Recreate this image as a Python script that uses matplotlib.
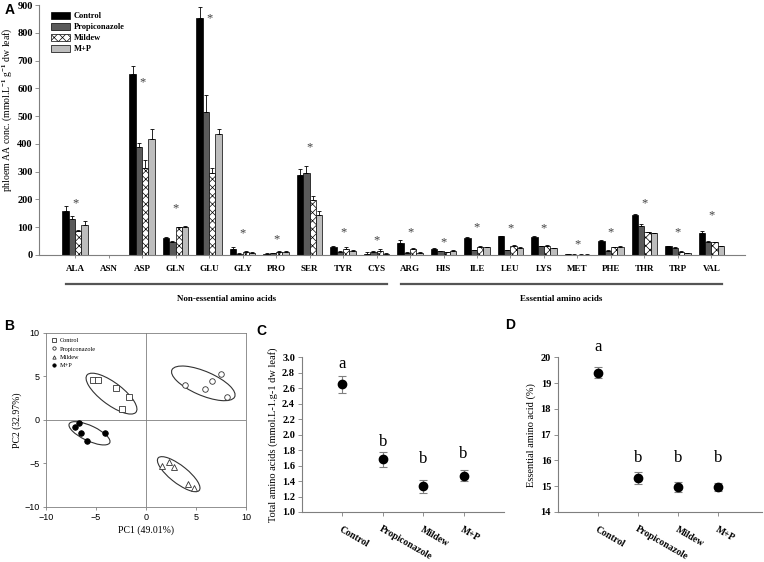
import matplotlib
matplotlib.use("Agg")
import matplotlib.pyplot as plt
import matplotlib.transforms as mtransforms
from matplotlib.patches import Ellipse
import numpy as np

plt.rcParams["font.family"] = "Liberation Serif"
plt.rcParams["font.weight"] = "bold"
plt.rcParams["mathtext.fontset"] = "custom"
plt.rcParams["mathtext.rm"] = "Liberation Serif:bold"
plt.rcParams["mathtext.default"] = "rm"
plt.rcParams["hatch.linewidth"] = 0.5

# ---- panel A data (mmol/L/g dw leaf) ----
amino_acids = ["ALA", "ASN", "ASP", "GLN", "GLU", "GLY", "PRO", "SER", "TYR", "CYS",
               "ARG", "HIS", "ILE", "LEU", "LYS", "MET", "PHE", "THR", "TRP", "VAL"]
control = [157, 0, 650, 61, 853, 20, 5, 289, 30, 5, 42, 22, 60, 67, 64, 2, 51, 145, 31, 80]
propiconazole = [131, 0, 390, 48, 515, 5, 6, 297, 12, 10, 8, 14, 17, 17, 31, 1, 16, 105, 25, 48]
mildew = [85, 0, 312, 100, 295, 10, 12, 197, 22, 15, 20, 10, 28, 34, 32, 1, 28, 81, 12, 45]
m_p = [109, 0, 418, 101, 435, 8, 12, 144, 15, 5, 8, 16, 28, 25, 24, 1, 30, 78, 7, 32]
control_err = [19, 0, 30, 5, 40, 7, 1, 20, 3, 4, 12, 2, 3, 3, 4, 1, 3, 4, 2, 6]
propiconazole_err = [9, 0, 12, 3, 60, 2, 1, 24, 2, 5, 2, 2, 2, 2, 2, 1, 2, 6, 2, 3]
mildew_err = [4, 0, 30, 2, 20, 4, 2, 17, 6, 8, 5, 2, 3, 3, 3, 1, 2, 3, 2, 2]
m_p_err = [15, 0, 35, 3, 18, 3, 2, 15, 3, 2, 2, 2, 2, 2, 2, 1, 2, 2, 1, 2]
star_height = [187, None, 620, 169, 853, 79, 57, 389, 83, 54,
               80, 47, 98, 97, 97, 40, 83, 187, 80, 141]

# ---- panel B data (PCA scores) ----
pca_control_x = [-5.27, -4.8, -3.0, -1.73, -2.4]
pca_control_y = [4.6, 4.6, 3.68, 2.64, 1.23]
pca_propi_x = [3.93, 5.87, 6.6, 7.47, 8.1]
pca_propi_y = [4.0, 3.52, 4.48, 5.33, 2.68]
pca_mildew_x = [1.57, 2.27, 2.8, 4.17, 4.77]
pca_mildew_y = [-5.25, -4.79, -5.4, -7.4, -7.78]
pca_mp_x = [-7.1, -6.7, -6.53, -5.93, -4.1]
pca_mp_y = [-0.84, -0.38, -1.5, -2.45, -1.49]
# (center x, center y, width, height, angle)
pca_ellipses = [(-3.45, 3.03, 6.5, 2.4, -42),
                (5.73, 4.21, 7.0, 2.7, -27),
                (3.27, -6.23, 5.55, 1.9, -43),
                (-5.65, -1.53, 4.6, 1.7, -29)]

# ---- panels C and D ----
treatments = ["Control", "Propiconazole", "Mildew", "M+P"]
total_aa = [2.65, 1.68, 1.33, 1.47]
total_aa_err = [0.11, 0.095, 0.08, 0.07]
total_letters = ["a", "b", "b", "b"]
total_letter_y = [2.91, 1.90, 1.69, 1.75]
essential_pct = [19.4, 15.31, 14.97, 14.97]
essential_err = [0.21, 0.24, 0.2, 0.17]
essential_letters = ["a", "b", "b", "b"]
essential_letter_y = [20.39, 16.1, 16.1, 16.1]

GRAY = "#7f7f7f"

fig = plt.figure(figsize=(7.64, 5.62), dpi=100)

# ================= A =================
axA = fig.add_axes([0.051, 0.5463, 0.924, 0.4447])
x = np.arange(1, len(amino_acids) + 1)
bw = 0.19
series = [
    (control, control_err, "black", None, "Control"),
    (propiconazole, propiconazole_err, "#5a5a5a", None, "Propiconazole"),
    (mildew, mildew_err, "white", "xxxx", "Mildew"),
    (m_p, m_p_err, "#bdbdbd", None, "M+P"),
]
for i, (vals, err, col, hatch, lab) in enumerate(series):
    axA.bar(x + (i - 1.5) * bw, vals, width=bw, color=col, edgecolor="black",
            linewidth=0.5, hatch=hatch, label=lab,
            yerr=[np.zeros(len(err)), err],
            error_kw=dict(ecolor="black", elinewidth=0.6, capsize=1.5, capthick=0.6))

for xi, h in zip(x, star_height):
    if h is not None:
        axA.text(xi, h, "*", ha="center", va="center", fontsize=9,
                 fontweight="normal", color="#404040")

axA.set_xlim(-0.08, 21.0)
axA.set_ylim(0, 900)
axA.set_yticks(range(0, 1000, 100))
axA.set_xticks(x)
axA.set_xticklabels(amino_acids, fontsize=6.5)
axA.tick_params(axis="y", labelsize=7.5, length=3, color=GRAY, width=0.6, pad=1.5)
axA.tick_params(axis="x", length=2, color=GRAY, width=0.6, pad=5)
for s in ("top", "right"):
    axA.spines[s].set_visible(False)
for s in ("left", "bottom"):
    axA.spines[s].set_color(GRAY)
    axA.spines[s].set_linewidth(0.8)
axA.set_ylabel("phloem AA conc. (mmol.L$^{-1}$ g$^{-1}$ dw leaf)", fontsize=7)
axA.yaxis.set_label_coords(-0.036, 0.58)
axA.legend(loc="upper left", bbox_to_anchor=(0.012, 0.985), frameon=False,
           fontsize=6, handlelength=2.3, handleheight=0.9, labelspacing=0.3,
           borderaxespad=0, handletextpad=0.5)

trans = mtransforms.blended_transform_factory(axA.transData, axA.transAxes)
for first, last, name in [(1, 10, "Non-essential amino acids"),
                          (11, 20, "Essential amino acids")]:
    axA.plot([first - 0.28, last + 0.32], [-0.115, -0.115], transform=trans,
             clip_on=False, color="#555555", lw=1.6)
    axA.text((first + last) / 2 + 0.02, -0.175, name, transform=trans,
             ha="center", va="center", fontsize=6.5)

# ================= B =================
axB = fig.add_axes([0.0602, 0.0979, 0.2618, 0.3096])
axB.axhline(0, color=GRAY, lw=0.6)
axB.axvline(0, color=GRAY, lw=0.6)
axB.plot(pca_control_x, pca_control_y, "s", mfc="white", mec="#333333",
         ms=4, mew=0.6, ls="none", label="Control")
axB.plot(pca_propi_x, pca_propi_y, "o", mfc="white", mec="#333333",
         ms=4, mew=0.6, ls="none", label="Propiconazole")
axB.plot(pca_mildew_x, pca_mildew_y, "^", mfc="white", mec="#333333",
         ms=4, mew=0.6, ls="none", label="Mildew")
axB.plot(pca_mp_x, pca_mp_y, "o", mfc="black", mec="black",
         ms=4, mew=0.6, ls="none", label="M+P")
for cx, cy, w, h, ang in pca_ellipses:
    axB.add_patch(Ellipse((cx, cy), w, h, angle=ang, fill=False,
                          ec="#333333", lw=0.8))
axB.set_xlim(-10, 10)
axB.set_ylim(-10, 10)
axB.set_xticks([-10, -5, 0, 5, 10])
axB.set_yticks([-10, -5, 0, 5, 10])
for lab in axB.get_xticklabels() + axB.get_yticklabels():
    lab.set_family("Liberation Sans")
    lab.set_fontweight("normal")
axB.tick_params(labelsize=6.5, length=2.5, color=GRAY, width=0.6, pad=2)
for s in axB.spines.values():
    s.set_color(GRAY)
    s.set_linewidth(0.6)
axB.set_xlabel("PC1 (49.01%)", fontsize=7, labelpad=2)
axB.set_ylabel("PC2 (32.97%)", fontsize=7, labelpad=2)
axB.legend(loc="upper left", frameon=False, prop=dict(size=4.5, weight="normal"),
           markerscale=0.6, handlelength=1.0, handletextpad=0.4,
           labelspacing=0.45, borderaxespad=0.4)


# ================= C & D =================
def dot_panel(rect, vals, errs, letters, letter_y, ylim, yticks, fmt, ylabel):
    ax = fig.add_axes(rect)
    pos = np.arange(1, len(treatments) + 1)
    ax.errorbar(pos, vals, yerr=errs, fmt="o", color="black", ms=6,
                ecolor="#808080", elinewidth=0.8, capsize=3, capthick=0.8)
    for p, l, ly in zip(pos, letters, letter_y):
        ax.text(p, ly, l, ha="center", va="center", fontsize=12,
                fontweight="normal")
    ax.set_ylim(*ylim)
    ax.set_yticks(yticks)
    ax.set_yticklabels([fmt.format(t) for t in yticks], fontsize=7.5)
    ax.set_xticks(pos)
    ax.set_xticklabels(treatments, rotation=-30, ha="left", va="top",
                       rotation_mode="anchor", fontsize=7)
    ax.tick_params(axis="x", length=3, color=GRAY, width=0.6, pad=6)
    ax.tick_params(axis="y", length=3, color=GRAY, width=0.6, pad=2)
    for s in ("top", "right"):
        ax.spines[s].set_visible(False)
    for s in ("left", "bottom"):
        ax.spines[s].set_color(GRAY)
        ax.spines[s].set_linewidth(0.8)
    ax.set_ylabel(ylabel, fontsize=7.5, labelpad=3)
    return ax


axC = dot_panel([0.3953, 0.089, 0.2644, 0.275], total_aa, total_aa_err,
                total_letters, total_letter_y, (1.0, 3.0),
                np.round(np.arange(1.0, 3.01, 0.2), 1), "{:.1f}",
                "Total amino acids (mmol.L-1.g-1 dw leaf)")
axC.set_xlim(0, 5)
axD = dot_panel([0.7304, 0.089, 0.267, 0.275], essential_pct, essential_err,
                essential_letters, essential_letter_y, (14, 20),
                list(range(14, 21)), "{:d}", "Essential amino acid (%)")
axD.set_xlim(0, 5.1)

# panel letters
for px, py, letter in [(5, 10, "A"), (4, 326, "B"), (256, 331, "C"), (505, 325, "D")]:
    fig.text(px / 764, 1 - py / 562, letter, family="Liberation Sans",
             fontweight="bold", fontsize=10, va="center", ha="left")

fig.savefig("out.png", dpi=100)
